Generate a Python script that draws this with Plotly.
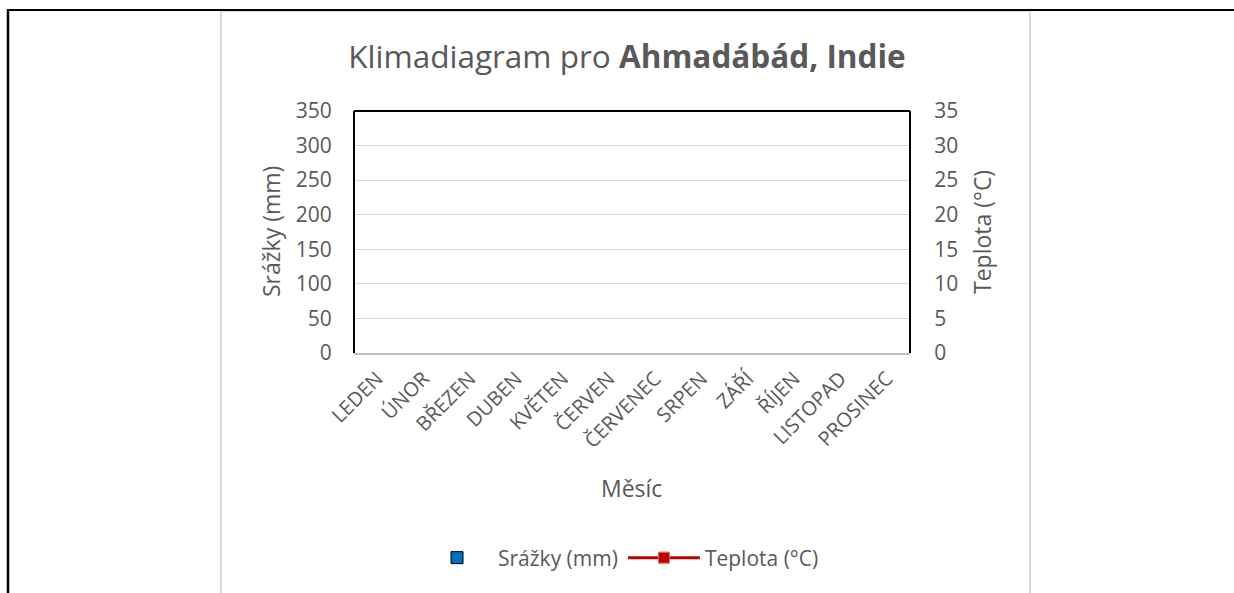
import plotly.graph_objects as go

months = ["LEDEN", "ÚNOR", "BŘEZEN", "DUBEN", "KVĚTEN", "ČERVEN",
          "ČERVENEC", "SRPEN", "ZÁŘÍ", "ŘÍJEN", "LISTOPAD", "PROSINEC"]
# The reference chart contains no data values (empty series)
precip_mm = [None] * 12
temp_c = [None] * 12
left_ticks = [0, 50, 100, 150, 200, 250, 300, 350]
right_ticks = [0, 5, 10, 15, 20, 25, 30, 35]

# body margin is removed by post_script, so figure pixels == window pixels
W, H = 1234, 593
L, R, T, B = 354, 910, 111, 353   # plot area in window pixels
PW, PH = R - L, B - T

def px(x):
    return (x - L) / PW

def py(y):
    return (B - y) / PH

FONT = "Open Sans"
GREY = "#595959"

fig = go.Figure()
fig.add_trace(go.Bar(x=months, y=precip_mm, name="Srážky (mm)",
                     marker=dict(color="#0070C0", line=dict(color="black", width=1)),
                     yaxis="y"))
fig.add_trace(go.Scatter(x=months, y=temp_c, name="Teplota (°C)", mode="lines+markers",
                         line=dict(color="#C00000", width=3),
                         marker=dict(symbol="square", size=11, color="#C00000",
                                     line=dict(color="#E06666", width=1)),
                         yaxis="y2"))

shapes = []
# page frame lines (black)
shapes.append(dict(type="line", xref="paper", yref="paper", x0=px(8), x1=px(1240), y0=py(10), y1=py(10),
                   line=dict(color="black", width=2)))
shapes.append(dict(type="line", xref="paper", yref="paper", x0=px(8), x1=px(8), y0=py(9), y1=py(600),
                   line=dict(color="black", width=2.5)))
# chart area border (light grey)
for xx in (221, 1030):
    shapes.append(dict(type="line", xref="paper", yref="paper", x0=px(xx), x1=px(xx), y0=py(11), y1=py(600),
                       line=dict(color="#D9D9D9", width=2)))
shapes.append(dict(type="line", xref="paper", yref="paper", x0=px(221), x1=px(1030), y0=py(11.5), y1=py(11.5),
                   line=dict(color="#D9D9D9", width=1)))
# plot area border: top, left, right black
shapes.append(dict(type="line", xref="paper", yref="paper", x0=0, x1=1, y0=1, y1=1,
                   line=dict(color="black", width=2)))
shapes.append(dict(type="line", xref="paper", yref="paper", x0=0, x1=0, y0=0, y1=1,
                   line=dict(color="black", width=2)))
shapes.append(dict(type="line", xref="paper", yref="paper", x0=1, x1=1, y0=0, y1=1,
                   line=dict(color="black", width=2)))

annotations = [
    dict(text="Srážky (mm)", xref="paper", yref="paper", x=px(271), y=py(232), textangle=-90,
         showarrow=False, font=dict(family=FONT, size=23, color=GREY), xanchor="center", yanchor="middle"),
    dict(text="Teplota (°C)", xref="paper", yref="paper", x=px(982), y=py(232), textangle=-90,
         showarrow=False, font=dict(family=FONT, size=23, color=GREY), xanchor="center", yanchor="middle"),
    dict(text="Měsíc", xref="paper", yref="paper", x=px(631), y=py(488),
         showarrow=False, font=dict(family=FONT, size=23, color=GREY), xanchor="center", yanchor="middle"),
]

fig.update_layout(
    width=W, height=H,
    margin=dict(l=L, r=W - R, t=T, b=H - B, pad=0),
    paper_bgcolor="white", plot_bgcolor="white",
    title=dict(text="Klimadiagram pro <b>Ahmadábád, Indie</b>", xref="container", yref="container",
               x=627 / W, y=1 - 57 / H, xanchor="center", yanchor="middle",
               font=dict(family=FONT, size=31.5, color=GREY)),
    font=dict(family=FONT, size=21, color=GREY),
    xaxis=dict(type="category", categoryorder="array", categoryarray=months, range=[-0.5, 11.5],
               tickangle=-45, tickfont=dict(family=FONT, size=20, color=GREY),
               showline=True, linecolor="#BFBFBF", linewidth=2, showgrid=False,
               ticks="outside", ticklen=4, tickcolor="white", fixedrange=True),
    yaxis=dict(range=[0, 350], tickvals=left_ticks, ticktext=[str(v) for v in left_ticks],
               showgrid=True, gridcolor="#D9D9D9", gridwidth=1, zeroline=False,
               tickfont=dict(family=FONT, size=21, color=GREY), ticks="outside", ticklen=17,
               tickcolor="white", showline=False),
    yaxis2=dict(range=[0, 35], tickvals=right_ticks, ticktext=[str(v) for v in right_ticks],
                overlaying="y", side="right", showgrid=False, zeroline=False,
                tickfont=dict(family=FONT, size=21, color=GREY), ticks="outside", ticklen=19,
                tickcolor="white", showline=False),
    legend=dict(orientation="h", x=px(620), y=py(558), xanchor="center", yanchor="middle",
                font=dict(family=FONT, size=21, color=GREY), itemwidth=72, bgcolor="rgba(0,0,0,0)"),
    shapes=shapes,
    annotations=annotations,
    showlegend=True,
)

fig.write_html("out.html", config={"displayModeBar": False},
               post_script="document.body.style.margin='0';document.body.style.overflow='hidden';")
